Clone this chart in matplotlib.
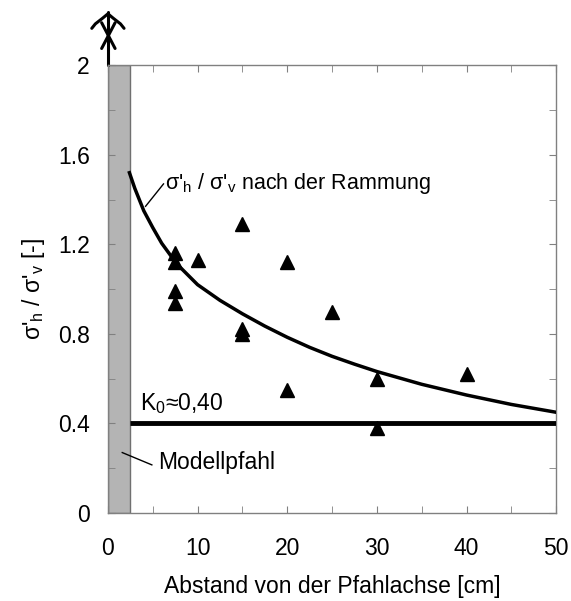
import numpy as np
import matplotlib.pyplot as plt
from matplotlib.patches import Rectangle

plt.rcParams['font.family'] = ['Liberation Sans', 'DejaVu Sans']
plt.rcParams['mathtext.fontset'] = 'custom'
plt.rcParams['mathtext.rm'] = 'Liberation Sans'
plt.rcParams['mathtext.it'] = 'Liberation Sans'

# Messpunkte
abstand = [7.5, 7.5, 7.5, 7.5, 10, 15, 15, 15, 20, 20, 25, 30, 30, 40]
verhaeltnis = [1.16, 1.12, 0.99, 0.94, 1.13, 1.29, 0.82, 0.80, 1.12, 0.55, 0.90, 0.60, 0.38, 0.62]

# Kurve nach der Rammung
kurve_x = [2.4, 3, 4, 5, 6, 7, 8, 9, 10, 12.5, 15, 17.5, 20, 22.5, 25, 27.5, 30, 35, 40, 45, 50]
kurve_y = [1.52, 1.45, 1.35, 1.275, 1.205, 1.15, 1.10, 1.06, 1.02, 0.95, 0.89, 0.835, 0.785,
           0.74, 0.70, 0.665, 0.632, 0.575, 0.527, 0.485, 0.45]

k0 = 0.40
pfahl_r = 2.5

fig = plt.figure(figsize=(5.71, 6.01), dpi=100)
ax = fig.add_axes([0.189, 0.1464, 0.785, 0.745])

grau = '#808080'
fs = 16.5

ax.add_patch(Rectangle((0, 0), pfahl_r, 2, facecolor='#b4b4b4', edgecolor='#707070', lw=1, zorder=1))
ax.plot([pfahl_r, 50], [k0, k0], color='black', lw=3.5, solid_capstyle='butt', zorder=3)
ax.plot(kurve_x, kurve_y, color='black', lw=2.5, zorder=3)
ax.plot(abstand, verhaeltnis, '^', color='black', ms=10, zorder=4)

ax.set_xlim(0, 50)
ax.set_ylim(0, 2)
ax.set_xticks(np.arange(0, 51, 10))
ax.set_xticks(np.arange(0, 51, 5), minor=True)
ax.set_yticks([0, 0.4, 0.8, 1.2, 1.6, 2])
ax.set_yticklabels(['0', '0.4', '0.8', '1.2', '1.6', '2'])
ax.set_yticks(np.arange(0, 2.01, 0.2), minor=True)
ax.tick_params(which='both', direction='in', top=True, right=True, length=5,
               color=grau, labelsize=fs)
ax.tick_params(axis='y', pad=13)
ax.tick_params(axis='x', pad=17)
for s in ax.spines.values():
    s.set_color(grau)
    s.set_linewidth(1)

ax.set_xlabel('Abstand von der Pfahlachse [cm]', fontsize=fs, labelpad=11)
ax.set_ylabel("σ'$_\\mathrm{h}$ / σ'$_\\mathrm{v}$ [-]", fontsize=fs, labelpad=8)

# Beschriftungen
ax.text(6.4, 1.47, "σ'$_\\mathrm{h}$ / σ'$_\\mathrm{v}$ nach der Rammung", fontsize=15.5, va='center')
ax.plot([6.2, 4.2], [1.47, 1.37], color='black', lw=1)
ax.text(3.6, 0.49, 'K$_\\mathrm{0}$≈0,40', fontsize=fs, va='center')
ax.text(5.6, 0.225, 'Modellpfahl', fontsize=fs, va='center')
ax.plot([1.6, 4.9], [0.27, 0.215], color='black', lw=1)

# Pfeil oberhalb des Pfahls
pfeil = dict(color='black', lw=2.2, clip_on=False, solid_capstyle='round')
ax.plot([0, 0], [2, 2.24], **pfeil)
ax.plot([-1.8, -1.4, -0.6, 0, 0.6, 1.4, 1.8], [2.165, 2.185, 2.21, 2.23, 2.21, 2.185, 2.165], **pfeil)
ax.plot([-0.7, 0.8], [2.19, 2.075], **pfeil)
ax.plot([0.8, -0.7], [2.19, 2.075], **pfeil)

fig.savefig('out.png', dpi=100)
